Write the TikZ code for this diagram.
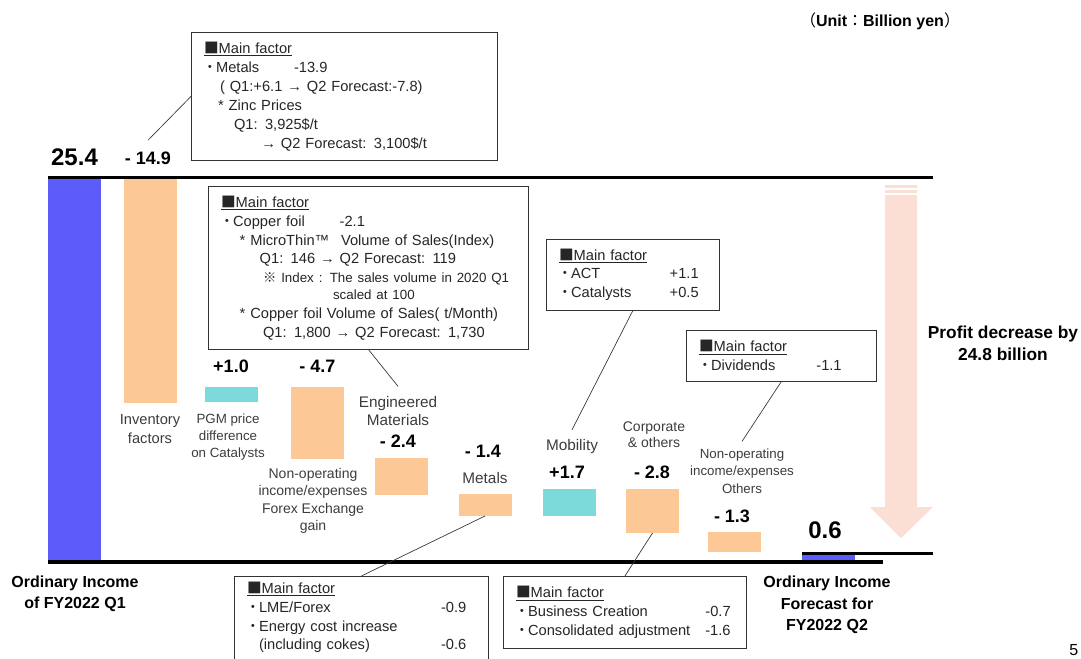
\documentclass[tikz,border=0pt]{standalone}
\usepackage{fontspec}
\setmainfont{Liberation Sans}
\newfontfamily\cjk{Noto Sans CJK JP}
\usetikzlibrary{positioning}

\definecolor{q1blue}{RGB}{92,92,250}
\definecolor{minusbar}{RGB}{252,200,150}
\definecolor{plusbar}{RGB}{125,218,218}
\definecolor{dropfill}{RGB}{251,222,212}
\definecolor{labgray}{RGB}{60,60,60}

\newcommand{\sqmark}{{\cjk ■}}
\newcommand{\mdot}{\makebox[9pt][c]{\cjk ・}}
\newcommand{\kome}{{\cjk ※}}
\newcommand{\mainfactor}{\underline{\sqmark Main factor}}

\begin{document}
\begin{tikzpicture}[x=0.75pt,y=-0.75pt]
    % waterfall: ordinary income FY2022 Q1 -> Q2 forecast
    % - bars and value labels
    % - factor boxes with leader lines
    \tikzset{bar/.style = {shape=rectangle,inner sep=0pt,outer sep=0pt,minimum width=39.75pt}}
    \tikzset{factor/.style = {shape=rectangle,draw=black!80,line width=0.6pt,fill=white,anchor=north west,
        align=left,inner xsep=9.5pt,inner ysep=4pt,text=black!85,font=\fontsize{11}{14.2}\selectfont}}
    \tikzset{lead/.style = {draw=black!80,line width=0.5pt}}
    \tikzset{value/.style = {font=\fontsize{13.5}{16}\selectfont\bfseries}}
    \tikzset{total/.style = {font=\fontsize{18}{20}\selectfont\bfseries}}
    \tikzset{seg/.style = {align=center,text=labgray,font=\fontsize{11.5}{13.5}\selectfont}}
    \tikzset{caption/.style = {align=center,font=\fontsize{12}{15.5}\selectfont\bfseries}}
    \tikzset{axis/.style = {line width=2.25pt}}

    \useasboundingbox (0,0) rectangle (1081,658);

    % profit decrease arrow
    \fill[dropfill] (885,185) -- (917,185) -- (917,507) -- (933,507) -- (901,538)
        -- (870,507) -- (885,507) -- cycle;
    \draw[white,line width=0.8pt] (885,189) -- (917,189) (885,194) -- (917,194);

    % bars
    \node[bar, fill=q1blue,   minimum height=288.75pt] (bQ1)    at (74.5,369.5)  {};
    \node[bar, fill=minusbar, minimum height=169.5pt]  (bInv)   at (150.5,290)   {};
    \node[bar, fill=plusbar,  minimum height=11.25pt]  (bPgm)   at (231,394.5)   {};
    \node[bar, fill=minusbar, minimum height=54pt]     (bForex) at (317.5,423)   {};
    \node[bar, fill=minusbar, minimum height=27.75pt]  (bEng)   at (401.5,476.5) {};
    \node[bar, fill=minusbar, minimum height=16.5pt]   (bMet)   at (485,505)     {};
    \node[bar, fill=plusbar,  minimum height=20.25pt]  (bMob)   at (569.5,502.5) {};
    \node[bar, fill=minusbar, minimum height=33pt]     (bCorp)  at (652.5,511)   {};
    \node[bar, fill=minusbar, minimum height=15pt]     (bOther) at (734.5,542)   {};
    \node[bar, fill=q1blue,   minimum height=6.75pt]   (bQ2)    at (828.5,557.5) {};

    % base lines
    \draw[axis] (48,177) -- (933,177);
    \draw[axis] (802,553) -- (933,553);
    \draw[axis, line width=3.5pt] (48,562) -- (883,562);

    % values
    \node[total] (vQ1)    at (74.5,157) {25.4};
    \node[value] (vInv)   at (148,158)  {- 14.9};
    \node[value] (vPgm)   [above=7pt of bPgm]   {+1.0};
    \node[value] (vForex) [above=7pt of bForex] {- 4.7};
    \node[value] (vEng)   at (398,441)  {- 2.4};
    \node[value] (vMet)   at (483,451)  {- 1.4};
    \node[value] (vMob)   at (567,472)  {+1.7};
    \node[value] (vCorp)  at (652,472)  {- 2.8};
    \node[value] (vOther) at (732,516)  {- 1.3};
    \node[total] (vQ2)    at (825,530)  {0.6};

    % segment labels
    \node[seg, font=\fontsize{11}{14}\selectfont] (lInv) at (150,429) {Inventory\\factors};
    \node[seg, font=\fontsize{10}{13}\selectfont] (lPgm) at (228,437) {PGM price\\difference\\on Catalysts};
    \node[seg, font=\fontsize{10.5}{13}\selectfont] (lForex) at (313,501)
        {Non-operating\\income/expenses\\Forex Exchange\\gain};
    \node[seg] (lEng) at (398,411) {Engineered\\Materials};
    \node[seg] (lMet) at (485,478) {Metals};
    \node[seg] (lMob) at (572,447) {Mobility};
    \node[seg, font=\fontsize{10.5}{12}\selectfont] (lCorp) at (654,435) {Corporate\\\& others};
    \node[seg, font=\fontsize{10}{13}\selectfont] (lOther) at (742,471)
        {Non-operating\\income/expenses\\Others};

    % captions
    \node[caption] (cQ1) at (75,594) {Ordinary Income\\of FY2022 Q1};
    \node[caption, font=\fontsize{12}{16}\selectfont\bfseries] (cQ2) at (827,605)
        {Ordinary Income\\Forecast for\\FY2022 Q2};
    \node[caption, font=\fontsize{13}{16.5}\selectfont\bfseries] (cDrop) at (1003,343)
        {Profit decrease by\\24.8 billion};
    \node[caption] (unit) at (880,21) {{\cjk\mdseries （}Unit{\cjk\mdseries ：}Billion yen{\cjk\mdseries ）}};
    \node[anchor=east, font=\fontsize{12}{14}\selectfont] (pnum) at (1083,650) {5};

    % metals (top)
    \node[factor, text width=210.5pt, minimum height=96pt] (fA) at (191,32)
        {\mainfactor\\
         \mdot\makebox[58.5pt][l]{Metals}-13.9\\
         \hspace*{12pt}( Q1:+6.1 → Q2 Forecast:-7.8)\\
         \hspace*{10.5pt}* Zinc Prices\\
         \hspace*{22.5pt}Q1: 3,925\$/t\\
         \hspace*{43pt}→ Q2 Forecast: 3,100\$/t};
    \draw[lead] (fA.west) -- ([yshift=5pt]vInv.north);

    % copper foil
    \node[factor, text width=221pt, minimum height=122pt] (fB) at (208,186)
        {\mainfactor\\
         \mdot\makebox[80pt][l]{Copper foil}-2.1\\
         \hspace*{14pt}\makebox[76pt][l]{* MicroThin™}Volume of Sales(Index)\\
         \hspace*{29pt}Q1: 146 → Q2 Forecast: 119\\
         {\fontsize{10}{14}\selectfont\hspace*{31.5pt}\kome\ Index : The sales volume in 2020 Q1}\\[-2pt]
         {\fontsize{10}{14}\selectfont\hspace*{84pt}scaled at 100}\\
         \hspace*{14pt}* Copper foil Volume of Sales( t/Month)\\
         \hspace*{31.5pt}Q1: 1,800 → Q2 Forecast: 1,730};
    \draw[lead] (fB.south) -- ([yshift=4pt]lEng.north);

    % mobility
    \node[factor, text width=110.75pt, minimum height=53pt] (fC) at (546,239)
        {\mainfactor\\
         \mdot\makebox[74pt][l]{ACT}+1.1\\
         \mdot\makebox[74pt][l]{Catalysts}+0.5};
    \draw[lead] (fC.south) -- ([yshift=4pt]lMob.north);

    % dividends
    \node[factor, text width=123.5pt, minimum height=38pt] (fD) at (686,330)
        {\mainfactor\\
         \mdot\makebox[79pt][l]{Dividends}-1.1};
    \draw[lead] (fD.south) -- ([yshift=2pt]lOther.north);

    % metals (bottom), runs off the page
    \node[factor, text width=171.5pt] (fE) at (234,576)
        {\mainfactor\\
         \mdot\makebox[136.5pt][l]{LME/Forex}-0.9\\
         \mdot Energy cost increase\\
         \hspace*{9pt}\makebox[136.5pt][l]{(including cokes)}-0.6\rule[-10pt]{0pt}{10pt}};
    \draw[lead] (bMet.south) -- (fE.north);

    % corporate
    \node[factor, text width=163.25pt, minimum height=54pt] (fF) at (503,576)
        {\mainfactor\\
         \mdot\makebox[133pt][l]{Business Creation}-0.7\\
         \mdot\makebox[133pt][l]{Consolidated adjustment}-1.6};
    \draw[lead] (bCorp.south) -- (fF.north);

  \end{tikzpicture}
\end{document}
